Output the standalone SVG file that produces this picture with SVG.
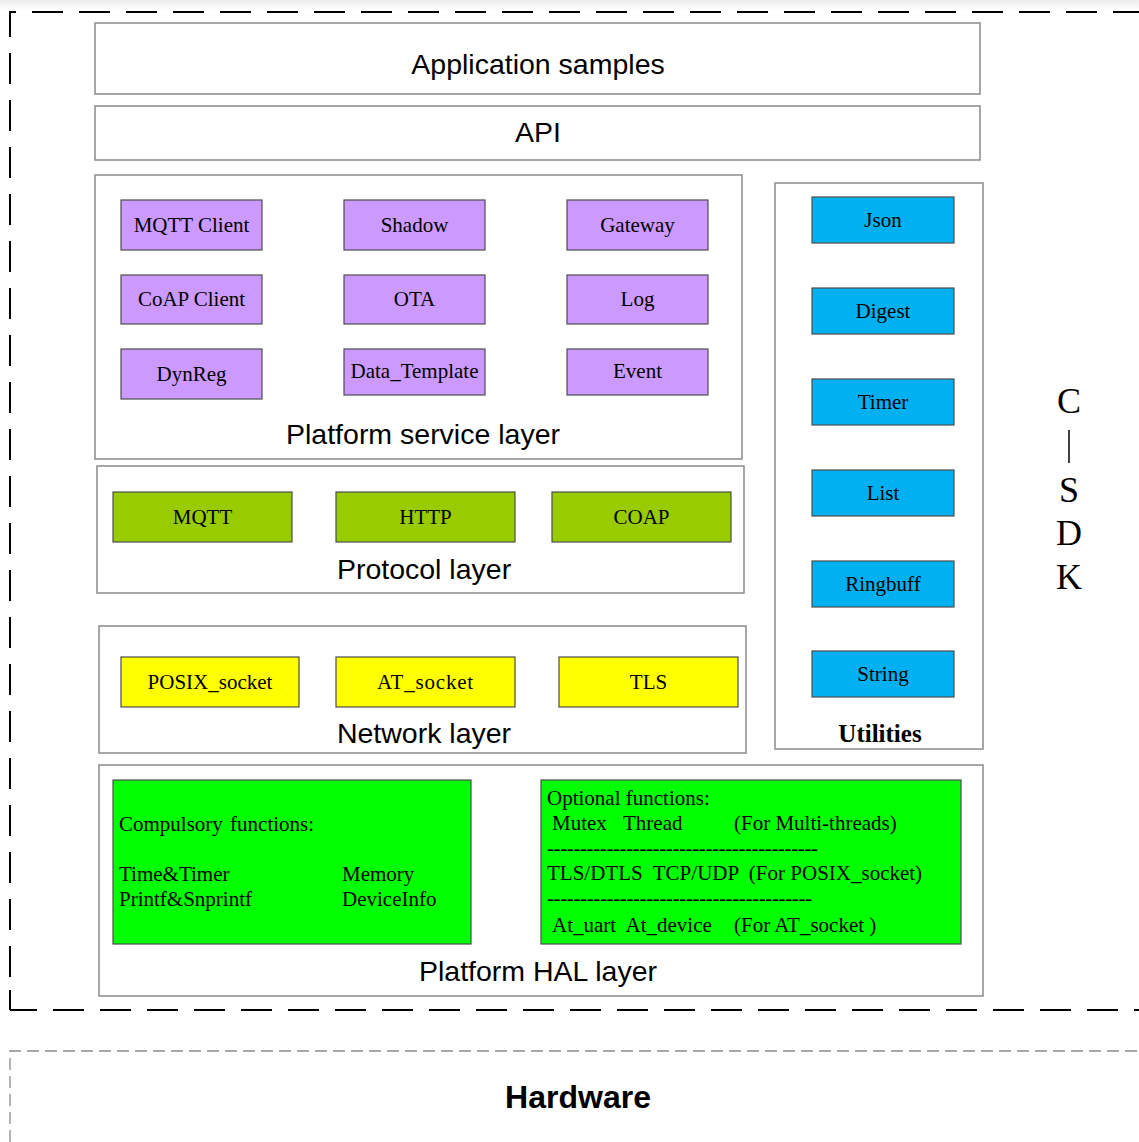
<svg xmlns="http://www.w3.org/2000/svg" width="1139" height="1142" viewBox="0 0 1139 1142">
<defs>
<linearGradient id="topband" x1="0" y1="0" x2="0" y2="1">
<stop offset="0" stop-color="#ececec"/>
<stop offset="1" stop-color="#ffffff"/>
</linearGradient>
</defs>
<style>
.layer{fill:#fff;stroke:#8a8a8a;stroke-width:1.5}
.node{stroke:#4d4d4d;stroke-width:1.2}
.purple{fill:#CC99FF}
.lime{fill:#99CC00}
.yellow{fill:#FFFF00}
.blue{fill:#00B0F0}
.green{fill:#00FF00}
.sans{font-family:"Liberation Sans",Arial,sans-serif;font-size:28.5px;fill:#000}
.serif{font-family:"Liberation Serif","Times New Roman",serif;font-size:21px;fill:#000}
.mid{text-anchor:middle}
.hal{font-family:"Liberation Serif","Times New Roman",serif;font-size:21px;fill:#000;white-space:pre}
.big{font-family:"Liberation Serif","Times New Roman",serif;font-size:36px;fill:#000;text-anchor:middle}
</style>
<rect x="0" y="0" width="1139" height="1142" fill="#fff"/>
<rect x="0" y="0" width="1139" height="11" fill="url(#topband)"/>

<g id="sdk-frame">
<path d="M10,1010 L10,12 L1160,12" fill="none" stroke="#000" stroke-width="2" stroke-dasharray="31,16" stroke-dashoffset="14"/>
<path d="M10,1010 L1160,1010" fill="none" stroke="#000" stroke-width="2" stroke-dasharray="31,16" stroke-dashoffset="4"/>
<path d="M10,1010 L10,990" fill="none" stroke="#000" stroke-width="2"/>
</g>

<g id="hardware">
<path d="M10,1142 L10,1051 L1150,1051" fill="none" stroke="#8c8c8c" stroke-width="1.3" stroke-dasharray="12,6"/>
<text x="578" y="1108" class="mid" font-family="Liberation Sans,Arial,sans-serif" font-size="32" font-weight="bold">Hardware</text>
</g>

<g id="application-samples">
<rect class="layer" x="95" y="23" width="885" height="71"/>
<text class="sans mid" x="538" y="74">Application samples</text>
</g>

<g id="api">
<rect class="layer" x="95" y="106" width="885" height="54"/>
<text class="sans mid" x="538" y="142">API</text>
</g>

<g id="platform-service-layer">
<rect class="layer" x="95" y="175" width="647" height="284"/>
<text class="sans mid" x="423" y="444">Platform service layer</text>
</g>
<g id="mqtt-client"><rect class="node purple" x="121" y="200" width="141" height="50"/><text class="serif mid" x="191.5" y="232">MQTT Client</text></g>
<g id="shadow"><rect class="node purple" x="344" y="200" width="141" height="50"/><text class="serif mid" x="414.5" y="232">Shadow</text></g>
<g id="gateway"><rect class="node purple" x="567" y="200" width="141" height="50"/><text class="serif mid" x="637.5" y="232">Gateway</text></g>
<g id="coap-client"><rect class="node purple" x="121" y="275" width="141" height="49"/><text class="serif mid" x="191.5" y="306">CoAP Client</text></g>
<g id="ota"><rect class="node purple" x="344" y="275" width="141" height="49"/><text class="serif mid" x="414.5" y="306">OTA</text></g>
<g id="log"><rect class="node purple" x="567" y="275" width="141" height="49"/><text class="serif mid" x="637.5" y="306">Log</text></g>
<g id="dynreg"><rect class="node purple" x="121" y="349" width="141" height="50"/><text class="serif mid" x="191.5" y="381">DynReg</text></g>
<g id="data-template"><rect class="node purple" x="344" y="349" width="141" height="46"/><text class="serif mid" x="414.5" y="378">Data_Template</text></g>
<g id="event"><rect class="node purple" x="567" y="349" width="141" height="46"/><text class="serif mid" x="637.5" y="378">Event</text></g>

<g id="protocol-layer">
<rect class="layer" x="97" y="466" width="647" height="127"/>
<text class="sans mid" x="424" y="579">Protocol layer</text>
</g>
<g id="mqtt"><rect class="node lime" x="113" y="492" width="179" height="50"/><text class="serif mid" x="202.5" y="524">MQTT</text></g>
<g id="http"><rect class="node lime" x="336" y="492" width="179" height="50"/><text class="serif mid" x="425.5" y="524">HTTP</text></g>
<g id="coap"><rect class="node lime" x="552" y="492" width="179" height="50"/><text class="serif mid" x="641.5" y="524">COAP</text></g>

<g id="network-layer">
<rect class="layer" x="99" y="626" width="647" height="127"/>
<text class="sans mid" x="424" y="743">Network layer</text>
</g>
<g id="posix-socket"><rect class="node yellow" x="121" y="657" width="178" height="50"/><text class="serif mid" x="210" y="689">POSIX_socket</text></g>
<g id="at-socket"><rect class="node yellow" x="336" y="657" width="179" height="50"/><text class="serif mid" x="425.5" y="689" letter-spacing="0.8">AT_socket</text></g>
<g id="tls"><rect class="node yellow" x="559" y="657" width="179" height="50"/><text class="serif mid" x="648.5" y="689">TLS</text></g>

<g id="utilities">
<rect class="layer" x="775" y="183" width="208" height="566"/>
<text class="mid" x="880" y="742" font-family="Liberation Serif,Times New Roman,serif" font-size="25" font-weight="bold">Utilities</text>
</g>
<g id="json"><rect class="node blue" x="812" y="197" width="142" height="46"/><text class="serif mid" x="883" y="227">Json</text></g>
<g id="digest"><rect class="node blue" x="812" y="288" width="142" height="46"/><text class="serif mid" x="883" y="318">Digest</text></g>
<g id="timer"><rect class="node blue" x="812" y="379" width="142" height="46"/><text class="serif mid" x="883" y="409">Timer</text></g>
<g id="list"><rect class="node blue" x="812" y="470" width="142" height="46"/><text class="serif mid" x="883" y="500">List</text></g>
<g id="ringbuff"><rect class="node blue" x="812" y="561" width="142" height="46"/><text class="serif mid" x="883" y="591">Ringbuff</text></g>
<g id="string"><rect class="node blue" x="812" y="651" width="142" height="46"/><text class="serif mid" x="883" y="681">String</text></g>

<g id="platform-hal-layer">
<rect class="layer" x="99" y="765" width="884" height="231"/>
<text class="sans mid" x="538" y="981">Platform HAL layer</text>
</g>
<g id="compulsory-functions">
<rect class="node green" x="113" y="780" width="358" height="164"/>
<text class="hal" x="119" y="831" word-spacing="2">Compulsory functions:</text>
<text class="hal" x="119" y="881">Time&amp;Timer</text>
<text class="hal" x="342" y="881">Memory</text>
<text class="hal" x="119" y="906">Printf&amp;Snprintf</text>
<text class="hal" x="342" y="906">DeviceInfo</text>
</g>
<g id="optional-functions">
<rect class="node green" x="541" y="780" width="420" height="164"/>
<text class="hal" x="547" y="805">Optional functions:</text>
<text class="hal" x="552" y="830">Mutex</text>
<text class="hal" x="623" y="830">Thread</text>
<text class="hal" x="734" y="830">(For Multi-threads)</text>
<text class="hal" x="547" y="855" textLength="271" lengthAdjust="spacing">-----------------------------------------</text>
<text class="hal" x="547" y="880">TLS/DTLS  TCP/UDP  (For POSIX_socket)</text>
<text class="hal" x="547" y="905" textLength="265" lengthAdjust="spacing">----------------------------------------</text>
<text class="hal" x="552" y="932">At_uart  At_device</text>
<text class="hal" x="734" y="932">(For AT_socket )</text>
</g>

<g id="csdk-label">
<text class="big" x="1069" y="413">C</text>
<line x1="1069" y1="430" x2="1069" y2="463" stroke="#000" stroke-width="1.5"/>
<text class="big" x="1069" y="502">S</text>
<text class="big" x="1069" y="545">D</text>
<text class="big" x="1069" y="589">K</text>
</g>

<g id="connectors"></g>
</svg>
